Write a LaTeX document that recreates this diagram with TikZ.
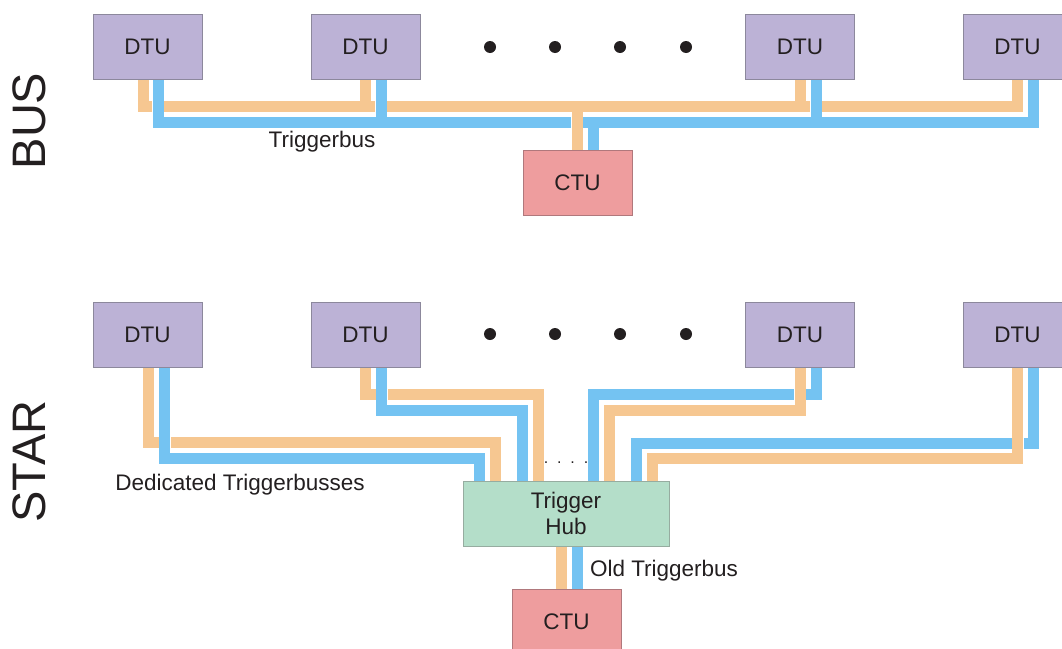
\documentclass[tikz,border=0pt]{standalone}
\usepackage{fontspec}
\setmainfont{Liberation Sans}
\usetikzlibrary{calc}
\definecolor{dtufill}{RGB}{188,178,214}
\definecolor{dtuline}{RGB}{140,136,156}
\definecolor{ctufill}{RGB}{238,157,158}
\definecolor{ctuline}{RGB}{176,120,124}
\definecolor{hubfill}{RGB}{180,222,201}
\definecolor{hubline}{RGB}{150,172,160}
\definecolor{wireO}{RGB}{246,199,145}
\definecolor{wireB}{RGB}{116,195,242}
\definecolor{ink}{RGB}{35,31,32}
\tikzset{
  unitbox/.style={draw, line width=1pt, outer sep=0pt, inner sep=0pt, minimum width=109pt, minimum height=65pt, text=ink, font=\fontsize{22.5}{27}\selectfont},
  dtubox/.style={unitbox, fill=dtufill, draw=dtuline},
  ctubox/.style={unitbox, fill=ctufill, draw=ctuline},
  hubbox/.style={unitbox, fill=hubfill, draw=hubline, minimum width=206pt, align=center, font=\fontsize{22.5}{26}\selectfont},
  wire/.style={line width=11pt, preaction={draw=white, line width=12pt}},
  ow/.style={wire, draw=wireO},
  bw/.style={wire, draw=wireB},
  lbl/.style={text=ink, font=\fontsize{22.5}{27}\selectfont, inner sep=0pt},
  biglbl/.style={text=ink, font=\fontsize{47}{50}\selectfont, inner sep=0pt, rotate=90},
  bigdot/.style={circle, fill=ink, inner sep=0pt, minimum size=12pt}
}
\begin{document}
\begin{tikzpicture}[x=1pt, y=-1pt]
\useasboundingbox (0,0) rectangle (1062,648);
\clip (0,0) rectangle (1062,648);
% ---------- BUS ----------
\node[dtubox] (b1) at (147.5,46.5) {DTU};
\node[dtubox] (b2) at (365.5,46.5) {DTU};
\node[dtubox] (b3) at (800,46.5) {DTU};
\node[dtubox] (b4) at (1017.5,46.5) {DTU};
\node[ctubox] (bctu) at (577.5,182.5) {CTU};
\foreach \i/\x in {1/490,2/555,3/620,4/686}{
  \node[bigdot] (bd\i) at (\x,47) {};
}
% orange bus
\draw[ow] ($(b1.south)+(-4.5,0)$) -- ++(0,27) -| ($(b4.south)+(-0.5,0)$);
\draw[ow] ($(b2.south)+(-0.5,0)$) -- ++(0,21.5);
\draw[ow] ($(b3.south)+(0,0)$) -- ++(0,21.5);
% blue bus
\draw[bw] ($(b1.south)+(10.5,0)$) -- ++(0,43.5) -| ($(b4.south)+(16,0)$);
\draw[bw] ($(b2.south)+(15.5,0)$) -- ++(0,38);
\draw[bw] ($(b3.south)+(16,0)$) -- ++(0,38);
% drops to CTU
\draw[ow] ($(bctu.north)+(-0.5,0)$) -- ++(0,-38.5);
\draw[bw] ($(bctu.north)+(16,0)$) -- ++(0,-22);
\node[ctubox] at (bctu) {CTU};
\node[dtubox] at (b1) {DTU};
\node[dtubox] at (b2) {DTU};
\node[dtubox] at (b3) {DTU};
\node[dtubox] at (b4) {DTU};
\node[lbl] (tbus) at (322,142) {Triggerbus};
\node[biglbl] (bus) at (29,121) {BUS};
% ---------- STAR ----------
\node[dtubox] (s1) at (147.5,334.5) {DTU};
\node[dtubox] (s2) at (365.5,334.5) {DTU};
\node[dtubox] (s3) at (800,334.5) {DTU};
\node[dtubox] (s4) at (1017.5,334.5) {DTU};
\node[hubbox] (hub) at (566,513.5) {Trigger\\Hub};
\node[ctubox] (sctu) at (566.5,621.5) {CTU};
\foreach \i/\x in {1/490,2/555,3/620,4/686}{
  \node[bigdot] (sd\i) at (\x,334) {};
}
% DTU 1
\draw[ow] ($(s1.south)+(1,0)$) -- ++(0,75.5) -| ($(hub.north)+(-70.5,0)$);
\draw[bw] ($(s1.south)+(17,0)$) -- ++(0,91.5) -| ($(hub.north)+(-86.5,0)$);
% DTU 2
\draw[ow] ($(s2.south)+(-0.5,0)$) -- ++(0,27.3) -| ($(hub.north)+(-27.5,0)$);
\draw[bw] ($(s2.south)+(16,0)$) -- ++(0,43) -| ($(hub.north)+(-43.5,0)$);
% DTU 3
\draw[bw] ($(s3.south)+(16,0)$) -- ++(0,27.3) -| ($(hub.north)+(27.5,0)$);
\draw[ow] ($(s3.south)+(0,0)$) -- ++(0,43.5) -| ($(hub.north)+(43.5,0)$);
% DTU 4
\draw[bw] ($(s4.south)+(16,0)$) -- ++(0,76) -| ($(hub.north)+(70.5,0)$);
\draw[ow] ($(s4.south)+(0,0)$) -- ++(0,91.5) -| ($(hub.north)+(86.5,0)$);
% hub to CTU
\draw[ow] ($(hub.south)+(-5,0)$) -- ($(sctu.north)+(-5.5,0)$);
\draw[bw] ($(hub.south)+(11,0)$) -- ($(sctu.north)+(10.5,0)$);
\node[hubbox] at (hub) {Trigger\\Hub};
\node[ctubox] at (sctu) {CTU};
\node[dtubox] at (s1) {DTU};
\node[dtubox] at (s2) {DTU};
\node[dtubox] at (s3) {DTU};
\node[dtubox] at (s4) {DTU};
\node[lbl] (ded) at (240,485) {Dedicated Triggerbusses};
\node[lbl] (old) at (664,571) {Old Triggerbus};
\node[lbl, font=\fontsize{16}{18}\selectfont] (sdots) at (566,463) {.\ \ .\ \ .\ \ .};
\node[biglbl] (star) at (29,461.5) {STAR};
\end{tikzpicture}
\end{document}
